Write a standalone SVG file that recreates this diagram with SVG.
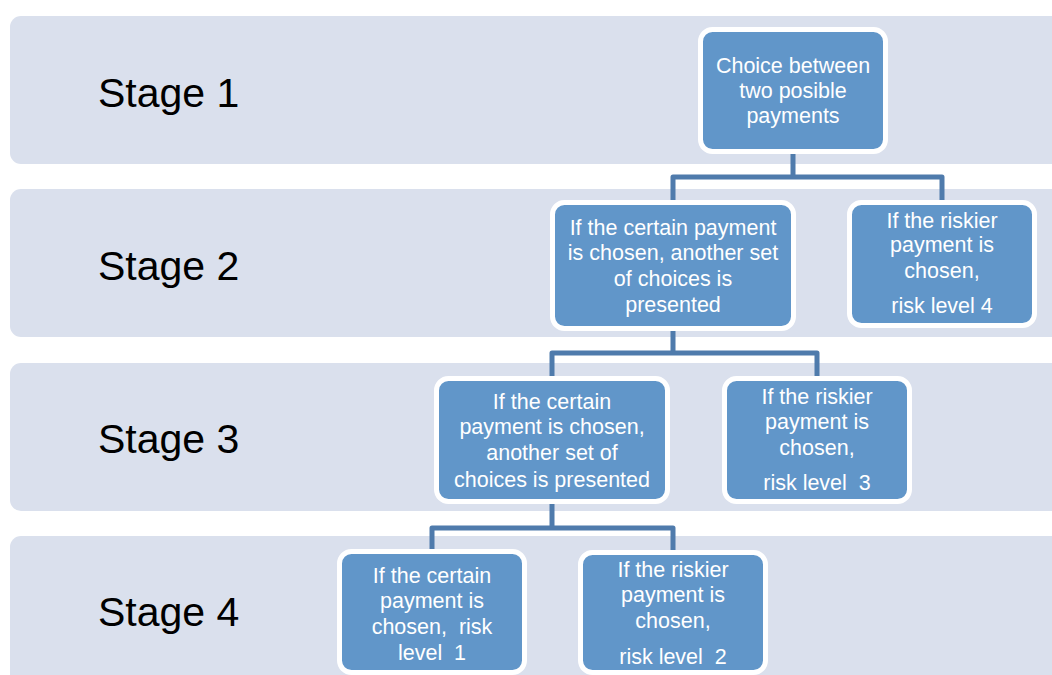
<svg xmlns="http://www.w3.org/2000/svg" width="1052" height="675" viewBox="0 0 1052 675">
<style>
.band{fill:#dae0ed}
.stage{font-family:"Liberation Sans",Arial,sans-serif;font-size:41px;fill:#000}
.node rect{fill:#6196c9;stroke:#fff;stroke-width:5}
.node text{font-family:"Liberation Sans",Arial,sans-serif;font-size:21.5px;fill:#fff;text-anchor:middle}
.conn{fill:none;stroke:#4f7bac;stroke-width:5;stroke-linejoin:round}
</style>
<rect width="1052" height="675" fill="#fff"/>
<g id="bands">
<rect class="band" x="10" y="16" width="1060" height="148" rx="11"/>
<rect class="band" x="10" y="189" width="1060" height="148" rx="11"/>
<rect class="band" x="10" y="363" width="1060" height="148" rx="11"/>
<rect class="band" x="10" y="536" width="1060" height="160" rx="11"/>
</g>
<g id="stage-labels">
<text class="stage" x="98" y="107">Stage 1</text>
<text class="stage" x="98" y="280">Stage 2</text>
<text class="stage" x="98" y="453">Stage 3</text>
<text class="stage" x="98" y="626">Stage 4</text>
</g>
<g id="connectors">
<path class="conn" d="M793 154 V177 M673 200 V177 H942 V200"/>
<path class="conn" d="M673 331 V353 M552 376 V353 H817 V376"/>
<path class="conn" d="M552 504 V528 M432 549 V528 H673 V550"/>
</g>
<g id="n1" class="node">
<rect x="700.5" y="29.5" width="185" height="122" rx="12"/>
<text x="793" y="73">Choice between</text>
<text x="793" y="98">two posible</text>
<text x="793" y="123">payments</text>
</g>
<g id="n2a" class="node">
<rect x="552.5" y="202.5" width="241" height="126" rx="12"/>
<text x="673" y="235">If the certain payment</text>
<text x="673" y="260">is chosen, another set</text>
<text x="673" y="286">of choices is</text>
<text x="673" y="312">presented</text>
</g>
<g id="n2b" class="node">
<rect x="849.5" y="202.5" width="185" height="123" rx="12"/>
<text x="942" y="228">If the riskier</text>
<text x="942" y="252">payment is</text>
<text x="942" y="278">chosen,</text>
<text x="942" y="313">risk level 4</text>
</g>
<g id="n3a" class="node">
<rect x="436.5" y="378.5" width="231" height="123" rx="12"/>
<text x="552" y="409">If the certain</text>
<text x="552" y="434">payment is chosen,</text>
<text x="552" y="460">another set of</text>
<text x="552" y="487">choices is presented</text>
</g>
<g id="n3b" class="node">
<rect x="724.5" y="378.5" width="185" height="123" rx="12"/>
<text x="817" y="404">If the riskier</text>
<text x="817" y="429">payment is</text>
<text x="817" y="455">chosen,</text>
<text x="817" y="490" xml:space="preserve">risk level  3</text>
</g>
<g id="n4a" class="node">
<rect x="339.5" y="551.5" width="185" height="121" rx="12"/>
<text x="432" y="583">If the certain</text>
<text x="432" y="608">payment is</text>
<text x="432" y="634" xml:space="preserve">chosen,  risk</text>
<text x="432" y="660" xml:space="preserve">level  1</text>
</g>
<g id="n4b" class="node">
<rect x="580.5" y="552.5" width="185" height="120" rx="12"/>
<text x="673" y="577">If the riskier</text>
<text x="673" y="602">payment is</text>
<text x="673" y="628">chosen,</text>
<text x="673" y="664" xml:space="preserve">risk level  2</text>
</g>
</svg>
